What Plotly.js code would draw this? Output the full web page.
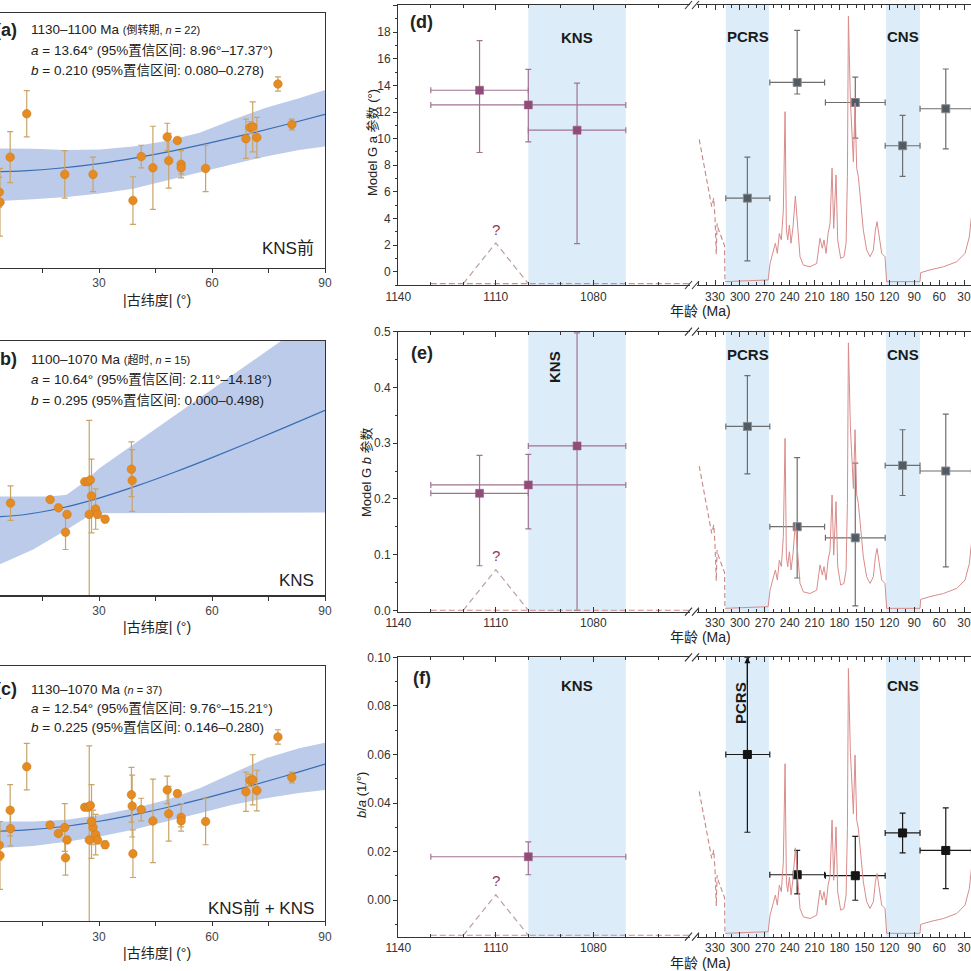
<!DOCTYPE html>
<html>
<head>
<meta charset="utf-8">
<script src="https://cdn.plot.ly/plotly-3.0.1.min.js"></script>
<style>html,body{margin:0;padding:0;background:#fff}#chart{width:971px;height:971px}</style>
</head>
<body>
<div id="chart"></div>
<script>
// ---- left column: VGP scatter vs |paleolatitude| ----
var latA = [3.5, 3.7, 6.4, 10.8, 20.9, 28.4, 39.0, 41.2, 44.3, 48.1, 48.5, 50.8, 51.8, 51.8, 58.3, 69.0, 70.1, 70.8, 71.9, 77.5, 81.2];
var sA   = [10.2, 8.5, 16.1, 23.4, 13.2, 13.2, 8.8, 16.2, 14.3, 19.5, 15.5, 18.9, 14.9, 14.3, 14.2, 19.2, 21.1, 21.2, 19.4, 28.4, 21.6];
var errA = [2.5, 5.7, 4.3, 3.9, 4.0, 2.9, 4.0, 1.9, 7.0, 2.3, 4.6, 0.5, 2.3, 1.0, 3.9, 3.3, 1.0, 4.2, 3.4, 1.2, 0.9];

var latB = [6.5, 17.0, 19.2, 21.1, 21.5, 26.2, 27.1, 27.7, 27.4, 28.0, 29.1, 29.6, 31.6, 38.6, 38.8];
var sB   = [13.0, 13.6, 12.2, 8.1, 11.1, 16.6, 16.6, 16.9, 11.1, 14.2, 12.0, 11.1, 10.3, 18.7, 16.8];
var errB = [2.9, 0.4, 0.4, 2.9, 0.5, 0.4, 0.4, 0.4, 15.8, 6.2, 3.4, 0.6, 0.6, 4.6, 5.2];

var fitLat = [0, 10, 20, 30, 40, 50, 60, 70, 80, 90];
var fitA = [13.64, 13.80, 14.27, 15.00, 16.02, 17.21, 18.57, 20.05, 21.64, 23.30];
var fitB = [10.64, 11.04, 12.17, 13.84, 15.89, 18.19, 20.65, 23.23, 25.89, 28.60];
var fitC = [12.54, 12.74, 13.32, 14.24, 15.44, 16.85, 18.43, 20.13, 21.94, 23.82];

var bandLat = [0, 12.5, 21.4, 30.2, 39, 47.8, 56.7, 65.5, 74.3, 83.1, 90];
var upA = [17.6, 17.5, 17.3, 17.4, 17.9, 18.8, 20.2, 22.4, 24.4, 26.0, 27.4];
var loA = [8.6, 9.0, 9.4, 10.0, 10.8, 12.1, 13.5, 14.9, 16.2, 17.3, 17.9];
var upC = [14.2, 14.2, 14.5, 15.3, 16.4, 17.8, 19.8, 22.3, 24.8, 26.5, 27.4];
var loC = [9.6, 10.1, 10.8, 11.7, 12.8, 14.2, 15.6, 17.0, 18.1, 19.0, 19.5];
var upLatB = [0, 17, 21.4, 25.8, 30.2, 39, 47.8, 56.7, 65.5, 74.3, 78.7, 90];
var upB    = [14.1, 14.1, 14.4, 16.4, 18.9, 22.8, 26.7, 30.6, 34.5, 38.5, 40.4, 45.3];
var loLatB = [0, 3.7, 12.5, 21.4, 28.4, 90];
var loB    = [2.2, 2.7, 5.2, 8.5, 11.3, 11.4];

// ---- right column: Model G parameters through time ----
var ageLeft = [1115, 1100, 1085];
var ageLeftErr = [15, 30, 15];
var aLeft = [13.64, 12.54, 10.64], aLeftLo = [8.96, 9.76, 2.11], aLeftHi = [17.37, 15.21, 14.18];
var bLeft = [0.210, 0.225, 0.295], bLeftLo = [0.080, 0.146, 0.000], bLeftHi = [0.278, 0.280, 0.498];
var baAge = [1100], baAgeErr = [30];
var baLeft = [0.0179], baLeftLo = [0.0105], baLeftHi = [0.024];

var ageRight = [291, 231, 161, 104, 52];
var ageRightOld = [317, 264, 197, 125, 83];
var ageRightYoung = [264, 198, 125, 83, 21];
var aRight = [5.53, 14.23, 12.72, 9.47, 12.25], aRightLo = [0.81, 13.36, 10.04, 7.16, 9.24], aRightHi = [8.62, 18.14, 14.63, 11.75, 15.24];
var bRight = [0.33, 0.15, 0.13, 0.26, 0.25], bRightLo = [0.245, 0.058, 0.008, 0.206, 0.078], bRightHi = [0.421, 0.274, 0.264, 0.324, 0.352];
var baRight = [0.060, 0.0105, 0.0101, 0.0277, 0.0205], baRightLo = [0.028, 0.0026, 0.0, 0.0195, 0.0048], baRightHi = [0.1, 0.0205, 0.0263, 0.0359, 0.038];

// reversal rate, in % of panel height
var revDashAge  = [349, 334, 331.5, 330, 328.5, 327.5, 326, 322, 318.5, 318];
var revDashRate = [52, 28, 31, 24, 11, 22, 20, 17, 14, 1.2];
var revAge = [318, 290, 266, 263.7, 259.7, 257.3, 254.9, 252.5, 250.1, 247.7, 245.6, 244.0, 242.4, 240.4, 238.4, 236.0, 233.2, 230.8, 227.6, 223.6, 215.5, 207.5, 203.5, 200.7, 198.7, 196.2, 193.8, 191.4, 189.0, 187.0, 184.2, 182.2, 178.6, 174.6, 172.1, 170.5, 169.3, 166.9, 164.5, 163.3, 161.3, 159.3, 157.3, 155.3, 151.3, 147.3, 143.2, 139.2, 136.8, 134.8, 132.4, 129.2, 125.2, 123.2, 100, 83.0, 82.2, 71.0, 54.9, 38.8, 28.8, 23.6, 21.5, 15];
var revRate = [1.2, 1.4, 1.8, 7.7, 12.5, 14.9, 11.3, 18.4, 16.1, 26.8, 61.9, 19.6, 16.1, 21.4, 14.9, 20.8, 31.8, 23.2, 10.1, 7.1, 6.5, 7.7, 16.7, 13.1, 16.1, 11.3, 18.4, 22.0, 41.7, 20.2, 39.3, 16.1, 9.5, 10.1, 14.9, 38.7, 96, 66, 54, 44, 65, 41.7, 38.7, 32.7, 19.6, 12.5, 10.1, 12.5, 19.6, 22.6, 17.2, 11.3, 10.1, 1.2, 1.2, 1.2, 4.4, 5.4, 6.5, 8.3, 11.3, 17.2, 23.2, 40];
var triAge = [1120, 1110, 1100], triRate = [0.5, 15, 0.5];
var floorAge = [1130, 1050], floorRate = [0.5, 0.5];

var knsBand = [1100, 1070], pcrsBand = [317, 265], cnsBand = [124, 83];

var W = 971;
var FONT = 'Liberation Sans, Arial, Noto Sans CJK SC, sans-serif';
function px(x) { return x / W; }
function py(y) { return 1 - y / W; }
function diff(a, b) { return a.map(function (v, i) { return Math.abs(v - b[i]); }); }

var data = [];
var layout = {
  width: W, height: W,
  margin: {l: 0, r: 0, t: 0, b: 0},
  paper_bgcolor: '#fff', plot_bgcolor: 'rgba(0,0,0,0)',
  showlegend: false,
  font: {family: FONT, size: 12, color: '#333'},
  annotations: [], shapes: []
};

function ann(o) {
  var a = {xref: 'paper', yref: 'paper', xanchor: 'center', yanchor: 'middle', showarrow: false,
           font: {family: FONT, size: 13, color: '#222'}};
  for (var k in o) a[k] = o[k];
  layout.annotations.push(a);
}

// ---- left panels ----
var left = [
  {s: '', top: 13.3, bot: 267.7, lat: latA, v: sA, e: errA, fit: fitA,
   upX: bandLat, up: upA, loX: bandLat, lo: loA, tag: '(a)',
   lines: ['1130–1100 Ma <span style="font-size:11px">(倒转期, <i>n</i> = 22)</span>',
           '<i>a</i> = 13.64° (95%置信区间: 8.96°–17.37°)',
           '<i>b</i> = 0.210 (95%置信区间: 0.080–0.278)'],
   ly: [30, 50.7, 70.7], corner: 'KNS前', cy: 249, ty: 300},
  {s: '2', top: 340.7, bot: 595.3, lat: latB, v: sB, e: errB, fit: fitB,
   upX: upLatB, up: upB, loX: loLatB, lo: loB, tag: '(b)',
   lines: ['1100–1070 Ma <span style="font-size:11px">(超时, <i>n</i> = 15)</span>',
           '<i>a</i> = 10.64° (95%置信区间: 2.11°–14.18°)',
           '<i>b</i> = 0.295 (95%置信区间: 0.000–0.498)'],
   ly: [359.3, 379.3, 400], corner: 'KNS', cy: 580, ty: 627},
  {s: '3', top: 666, bot: 921, lat: latA.concat(latB), v: sA.concat(sB), e: errA.concat(errB), fit: fitC,
   upX: bandLat, up: upC, loX: bandLat, lo: loC, tag: '(c)',
   lines: ['1130–1070 Ma <span style="font-size:11px">(<i>n</i> = 37)</span>',
           '<i>a</i> = 12.54° (95%置信区间: 9.76°–15.21°)',
           '<i>b</i> = 0.225 (95%置信区间: 0.146–0.280)'],
   ly: [689.3, 708.3, 727.3], corner: 'KNS前 + KNS', cy: 908, ty: 953}
];

left.forEach(function (p) {
  var xa = 'x' + p.s, ya = 'y' + p.s;
  data.push({
    x: p.upX.concat(p.loX.slice().reverse()),
    y: p.up.concat(p.lo.slice().reverse()),
    xaxis: xa, yaxis: ya, mode: 'lines', fill: 'toself',
    fillcolor: '#bccbe9', line: {width: 0}, hoverinfo: 'skip'
  });
  data.push({
    x: fitLat, y: p.fit, xaxis: xa, yaxis: ya, mode: 'lines',
    line: {color: '#3a6db5', width: 1.2, shape: 'spline'}
  });
  data.push({
    x: p.lat, y: p.v, xaxis: xa, yaxis: ya, mode: 'markers',
    marker: {color: '#e58b22', size: 8.5, line: {color: '#cf7a18', width: 0.6}},
    error_y: {type: 'data', array: p.e, color: '#c9a468', thickness: 1.2, width: 3}
  });
  layout['xaxis' + p.s] = {
    domain: [0, px(325)], range: [3.7, 90], anchor: ya,
    tickvals: [15, 30, 45, 60, 75, 90], ticktext: ['', '30', '', '60', '', '90'],
    ticks: 'outside', ticklen: 4, tickcolor: '#333', showline: true, mirror: true,
    linecolor: '#333', linewidth: 1.2, showgrid: false, zeroline: false,
    ticklabeloverflow: 'allow', tickfont: {size: 12, color: '#444'}
  };
  layout['yaxis' + p.s] = {
    domain: [py(p.bot), py(p.top)], range: [-2.5, 40.3], anchor: xa, side: 'right',
    showline: true, linecolor: '#333', linewidth: 1.2, ticks: '', showticklabels: false,
    showgrid: false, zeroline: false
  };
  ann({x: px(19), y: py(p.ly[0]), xanchor: 'right', text: '<b>' + p.tag + '</b>', font: {family: FONT, size: 18, color: '#222'}});
  p.lines.forEach(function (t, i) {
    ann({x: px(29), y: py(p.ly[i]), xanchor: 'left', text: t, font: {family: FONT, size: 13.5, color: '#222'}});
  });
  ann({x: px(316), y: py(p.cy), xanchor: 'right', text: p.corner, font: {family: FONT, size: 17, color: '#222'}});
  ann({x: px(157), y: py(p.ty), text: '|古纬度| (°)', font: {family: FONT, size: 14, color: '#222'}});
});

// ---- right panels ----
var right = [
  {n: 4, top: 5, bot: 285, yr: [-1, 20.05], dt: 2, mn: 1, fmt: '', tag: '(d)', tagY: 21.7,
   vl: aLeft, vlLo: aLeftLo, vlHi: aLeftHi, al: ageLeft, ale: ageLeftErr,
   vr: aRight, vrLo: aRightLo, vrHi: aRightHi, rc: '#4f5b66', rl: '#8a8a8a', re: '#6e6e6e',
   ytitle: 'Model G a 参数 (°)', ytx: 372, yty: 143, xty: 311,
   kns: [1085, 88.5, 0], pcrs: [290, 88.7, 0], cns: [103.5, 88.7]},
  {n: 6, top: 331.7, bot: 611.7, yr: [-0.0025, 0.5], dt: 0.1, mn: 0.05, fmt: '.1f', tag: '(e)', tagY: 353,
   vl: bLeft, vlLo: bLeftLo, vlHi: bLeftHi, al: ageLeft, ale: ageLeftErr,
   vr: bRight, vrLo: bRightLo, vrHi: bRightHi, rc: '#4f5b66', rl: '#8a8a8a', re: '#6e6e6e',
   ytitle: 'Model G <i>b</i> 参数', ytx: 366, yty: 472, xty: 637,
   kns: [1092, 87.5, -90], pcrs: [290, 91.7, 0], cns: [103, 91.7]},
  {n: 8, top: 657.3, bot: 936.7, yr: [-0.015, 0.1], dt: 0.02, mn: 0.01, fmt: '.2f', tag: '(f)', tagY: 678,
   vl: baLeft, vlLo: baLeftLo, vlHi: baLeftHi, al: baAge, ale: baAgeErr,
   vr: baRight, vrLo: baRightLo, vrHi: baRightHi, rc: '#151515', rl: '#151515', re: '#1a1a1a',
   ytitle: '<i>b</i>/<i>a</i> (1/°)', ytx: 361, yty: 795, xty: 963,
   kns: [1085, 90, 0], pcrs: [300, 83.6, -90], cns: [103, 90]}
];

right.forEach(function (p) {
  var xl = 'x' + p.n, xr = 'x' + (p.n + 1), ym = 'y' + p.n, yn = 'y' + (p.n + 1);
  var red = '#d98b8b';
  data.push({x: revDashAge, y: revDashRate, xaxis: xr, yaxis: yn, mode: 'lines',
    line: {color: '#c98585', width: 1.1, dash: '5px,3px'}});
  data.push({x: revAge, y: revRate, xaxis: xr, yaxis: yn, mode: 'lines',
    line: {color: red, width: 1}});
  data.push({x: floorAge, y: floorRate, xaxis: xl, yaxis: yn, mode: 'lines',
    line: {color: '#d08a8a', width: 1.1, dash: '6px,3px'}});
  data.push({x: triAge, y: triRate, xaxis: xl, yaxis: yn, mode: 'lines',
    line: {color: '#bba0a0', width: 1.2, dash: '6px,4px'}});
  data.push({
    x: p.al, y: p.vl, xaxis: xl, yaxis: ym, mode: 'markers',
    marker: {symbol: 'square', size: 8, color: '#8f4c78', line: {color: '#a06088', width: 0.6}},
    error_y: {type: 'data', symmetric: false, array: diff(p.vlHi, p.vl), arrayminus: diff(p.vl, p.vlLo), color: '#9f7393', thickness: 1.2, width: 3},
    error_x: {type: 'data', array: p.ale, color: '#9f7393', thickness: 1.2, width: 3}
  });
  data.push({
    x: ageRight, y: p.vr, xaxis: xr, yaxis: ym, mode: 'markers',
    marker: {symbol: 'square', size: 8, color: p.rc, line: {color: p.rl, width: 1}},
    error_y: {type: 'data', symmetric: false, array: diff(p.vrHi, p.vr), arrayminus: diff(p.vr, p.vrLo), color: p.re, thickness: 1.2, width: 3},
    error_x: {type: 'data', symmetric: false, array: diff(ageRightOld, ageRight), arrayminus: diff(ageRight, ageRightYoung), color: p.re, thickness: 1.2, width: 3}
  });

  var xcommon = {
    anchor: ym, showline: true, mirror: 'ticks', linecolor: '#333', linewidth: 1.2,
    ticks: 'inside', ticklen: 5, tickcolor: '#333', tick0: 0, dtick: 30,
    minor: {dtick: 10, ticks: 'inside', ticklen: 3, tickcolor: '#333'},
    showgrid: false, zeroline: false, ticklabeloverflow: 'allow', tickfont: {size: 12, color: '#333'}
  };
  layout['xaxis' + p.n] = Object.assign({domain: [px(398.3), px(690)], range: [1140, 1050.25]}, xcommon);
  layout['xaxis' + (p.n + 1)] = Object.assign({domain: [px(697), 1], range: [351.7, 21.6]}, xcommon);
  layout['yaxis' + p.n] = {
    domain: [py(p.bot), py(p.top)], range: p.yr, anchor: xl, tick0: 0, dtick: p.dt, tickformat: p.fmt,
    ticks: 'outside', ticklen: 4, tickcolor: '#333', showline: true, linecolor: '#333', linewidth: 1.2,
    minor: {dtick: p.mn, ticks: 'outside', ticklen: 2, tickcolor: '#333'},
    showgrid: false, zeroline: false, tickfont: {size: 12, color: '#333'}
  };
  layout['yaxis' + (p.n + 1)] = {overlaying: ym, range: [0, 100], visible: false, anchor: xr};

  var band = function (xref, r) {
    layout.shapes.push({type: 'rect', xref: xref, yref: ym + ' domain', x0: r[0], x1: r[1], y0: 0, y1: 1,
      fillcolor: '#dcedf9', line: {width: 0}, layer: 'below'});
  };
  band(xl, knsBand); band(xr, pcrsBand); band(xr, cnsBand);

  var bold = {family: FONT, size: 15, color: '#1a1a1a'};
  ann({xref: xl, yref: yn, x: p.kns[0], y: p.kns[1], text: '<b>KNS</b>', textangle: p.kns[2], font: bold});
  ann({xref: xr, yref: yn, x: p.pcrs[0], y: p.pcrs[1], text: '<b>PCRS</b>', textangle: p.pcrs[2], font: bold});
  ann({xref: xr, yref: yn, x: p.cns[0], y: p.cns[1], text: '<b>CNS</b>', font: bold});
  ann({xref: xl, yref: yn, x: triAge[1], y: 20, text: '?', font: {family: FONT, size: 15, color: '#8b3a62'}});
  ann({x: px(421.5), y: py(p.tagY), text: '<b>' + p.tag + '</b>', font: {family: FONT, size: 18, color: '#222'}});
  ann({x: px(p.ytx), y: py(p.yty), text: p.ytitle, textangle: -90, font: {family: FONT, size: 13, color: '#222'}});
  ann({x: px(700), y: py(p.xty), text: '年龄 (Ma)', font: {family: FONT, size: 14, color: '#222'}});

  // axis break marks
  [p.top, p.bot].forEach(function (yy) {
    [685, 692].forEach(function (xx) {
      layout.shapes.push({type: 'line', xref: 'paper', yref: 'paper',
        x0: px(xx), y0: py(yy + 4), x1: px(xx + 7), y1: py(yy - 4), line: {color: '#333', width: 1.1}});
    });
  });
});

// open-ended upper bound for the PCRS b/a value
layout.annotations.push({xref: 'x9', yref: 'y8', axref: 'x9', ayref: 'y8',
  x: ageRight[0], y: baRightHi[0], ax: ageRight[0], ay: baRightHi[0] - 0.012,
  showarrow: true, arrowhead: 2, arrowsize: 1, arrowwidth: 1.2, arrowcolor: '#111', text: ''});

Plotly.newPlot('chart', data, layout, {staticPlot: true});
</script>
</body>
</html>
